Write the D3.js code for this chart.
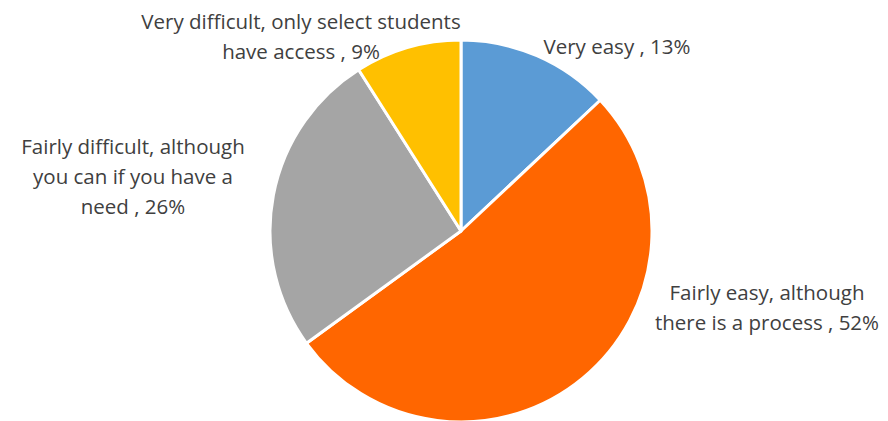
<!DOCTYPE html>
<html>
<head>
<meta charset="utf-8">
<script src="https://cdn.jsdelivr.net/npm/d3@7"></script>
<style>
  html, body { margin: 0; padding: 0; background: #fff; }
  svg text { font-family: "Open Sans", "Lato", sans-serif; fill: #404040; }
</style>
</head>
<body>
<svg id="chart" width="888" height="421"></svg>
<script>
// Survey answers: how easy is it to get access
const categories = [
  "Very easy",
  "Fairly easy, although there is a process",
  "Fairly difficult, although you can if you have a need",
  "Very difficult, only select students have access"
];
const values = [13, 52, 26, 9];
const colors = ["#5B9BD5", "#FF6600", "#A5A5A5", "#FFC000"];
// Label lines as wrapped in the chart
const labelLines = [
  ["Very easy , 13%"],
  ["Fairly easy, although", "there is a process , 52%"],
  ["Fairly difficult, although", "you can if you have a", "need , 26%"],
  ["Very difficult, only select students", "have access , 9%"]
];
// Label centre offsets from the pie centre (first line's middle)
const labelPos = [
  [156, -184],
  [306, 62],
  [-328, -84],
  [-160, -209]
];

const svg = d3.select("#chart");
const cx = 461, cy = 231, r = 191;
const g = svg.append("g").attr("transform", `translate(${cx},${cy})`);

const pie = d3.pie().sort(null).value(d => d)(values);
const arc = d3.arc().innerRadius(0).outerRadius(r);

g.selectAll("path.slice")
  .data(pie)
  .join("path")
  .attr("class", "slice")
  .attr("d", arc)
  .attr("fill", (d, i) => colors[i])
  .attr("stroke", "#fff")
  .attr("stroke-width", 3)
  .attr("stroke-linejoin", "round");

const lineH = 30;
g.selectAll("text.lbl")
  .data(pie)
  .join("text")
  .attr("class", "lbl")
  .attr("text-anchor", "middle")
  .attr("font-size", 20.5)
  .each(function(d, i) {
    const t = d3.select(this);
    labelLines[i].forEach((ln, k) => {
      t.append("tspan")
        .attr("x", labelPos[i][0])
        .attr("y", labelPos[i][1] + k * lineH)
        .attr("dy", "0.35em")
        .text(ln);
    });
  });
</script>
</body>
</html>
